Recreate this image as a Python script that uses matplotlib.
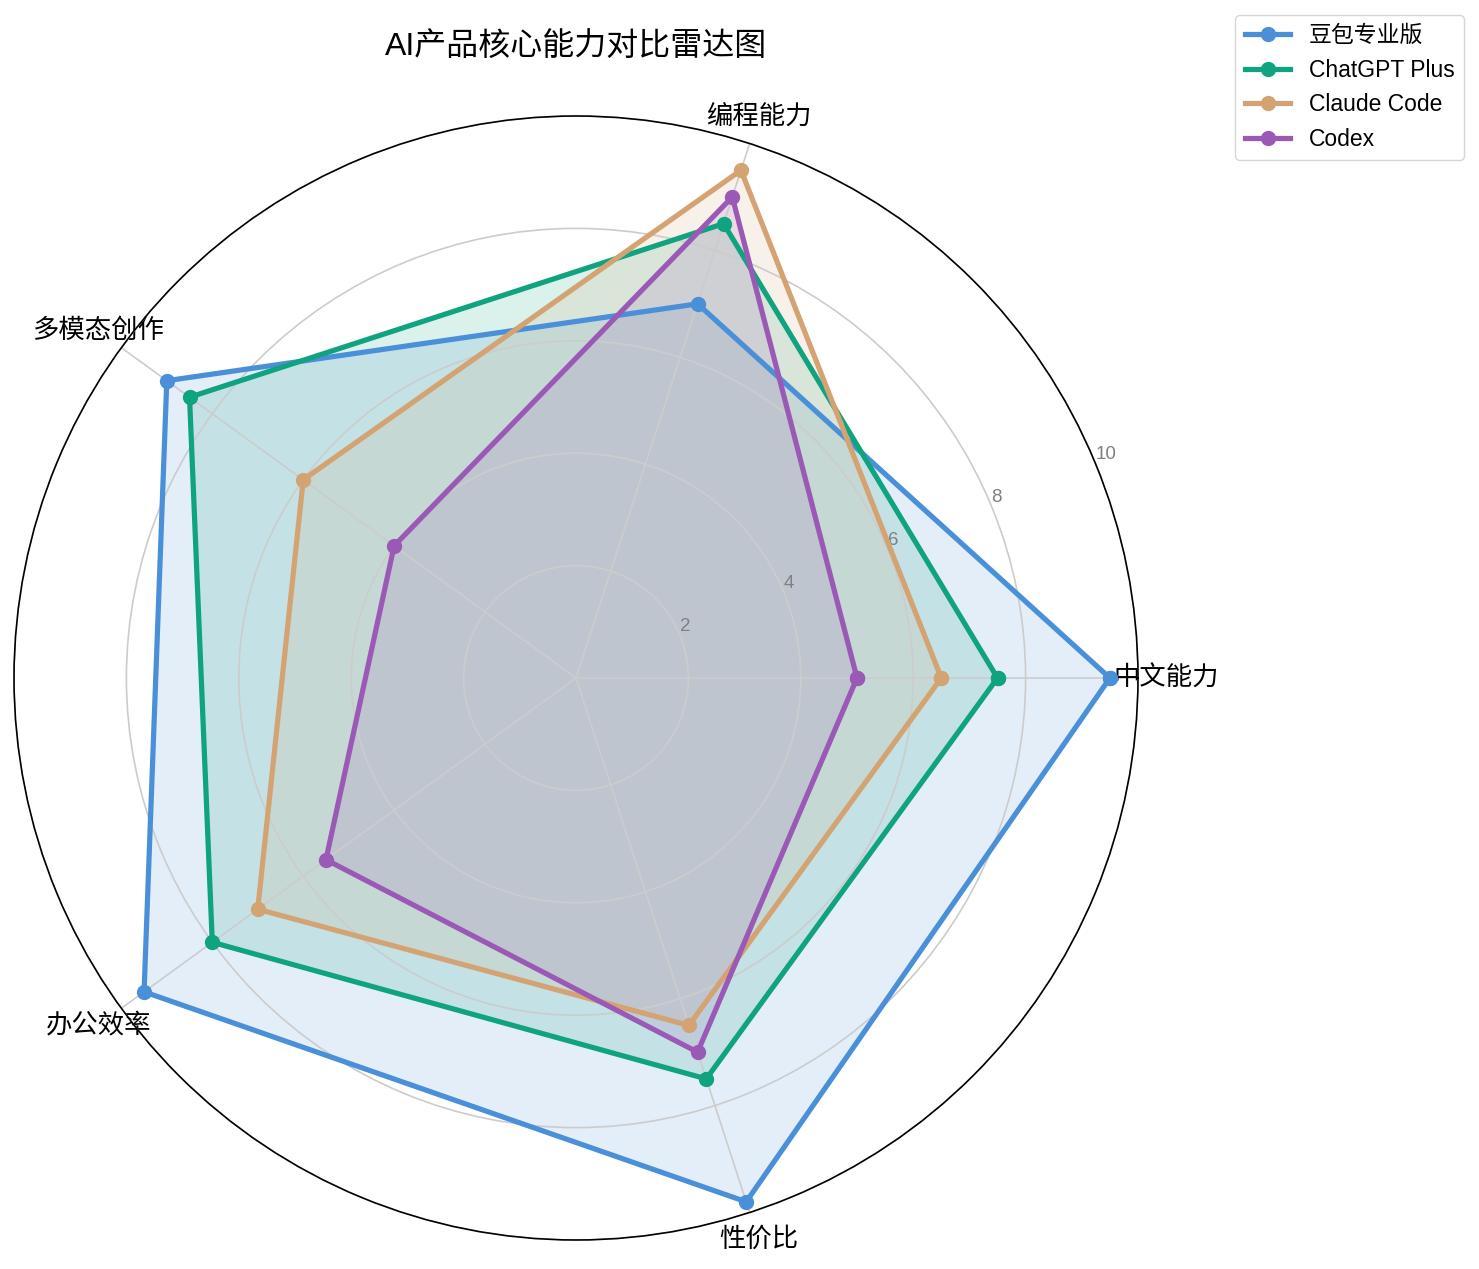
import numpy as np
import matplotlib.pyplot as plt

plt.rcParams['font.family'] = ['Liberation Sans', 'Noto Sans CJK SC', 'DejaVu Sans']
plt.rcParams['axes.unicode_minus'] = False

# 数据
categories = ['中文能力', '编程能力', '多模态创作', '办公效率', '性价比']
products = ['豆包专业版', 'ChatGPT Plus', 'Claude Code', 'Codex']
doubao = [9.5, 7.0, 9.0, 9.5, 9.8]
chatgpt = [7.5, 8.5, 8.5, 8.0, 7.5]
claude = [6.5, 9.5, 6.0, 7.0, 6.5]
codex = [5.0, 9.0, 4.0, 5.5, 7.0]
colors = ['#4A90D9', '#10A37F', '#D4A373', '#9B59B6']

angles = np.linspace(0, 2 * np.pi, len(categories), endpoint=False).tolist()
angles += angles[:1]

fig = plt.figure(figsize=(14.79, 12.69), dpi=100)
ax = fig.add_axes([14 / 1479, 29 / 1269, 1124 / 1479, 1124 / 1269], polar=True)

for name, vals, c in zip(products, [doubao, chatgpt, claude, codex], colors):
    v = vals + vals[:1]
    ax.plot(angles, v, 'o-', linewidth=3.75, markersize=10, color=c, label=name)
    ax.fill(angles, v, color=c, alpha=0.15)

ax.set_xticks(angles[:-1])
ax.set_xticklabels(categories, fontsize=19)
ax.tick_params(axis='x', pad=10)
ax.set_ylim(0, 10)
ax.set_yticks([2, 4, 6, 8, 10])
ax.set_yticklabels(['2', '4', '6', '8', '10'], fontsize=13.5, color='gray')
ax.grid(color='#cccccc', linewidth=1.2)
ax.spines['polar'].set_linewidth(1.2)

ax.set_title('AI产品核心能力对比雷达图', fontsize=23, pad=44)
ax.legend(loc='upper right', bbox_to_anchor=(1.3, 1.1), fontsize=16.5)

plt.savefig('out.png', dpi=100)
